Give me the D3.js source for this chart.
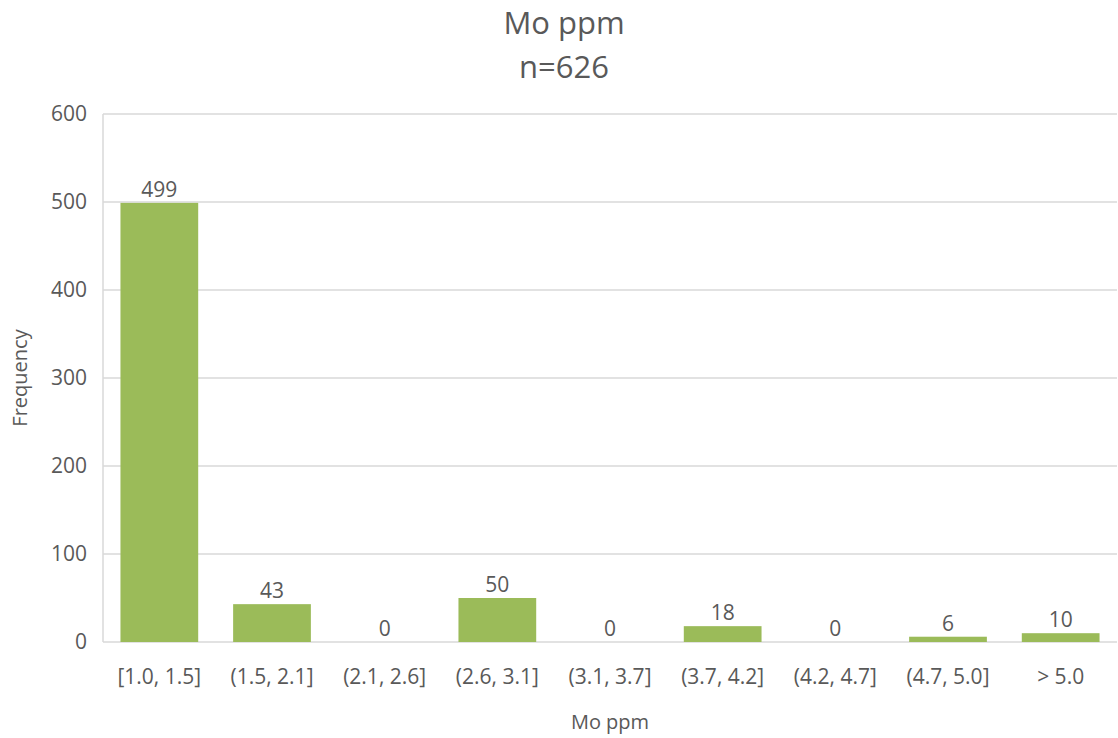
<!DOCTYPE html>
<meta charset="utf-8">
<style>
  body { margin: 0; background: #fff; }
  text { font-family: "Open Sans", sans-serif; fill: #595959; }
</style>
<body>
<script src="https://d3js.org/d3.v7.min.js"></script>
<script>
var categories = ["[1.0, 1.5]", "(1.5, 2.1]", "(2.1, 2.6]", "(2.6, 3.1]", "(3.1, 3.7]", "(3.7, 4.2]", "(4.2, 4.7]", "(4.7, 5.0]", "> 5.0"];
var counts = [499, 43, 0, 50, 0, 18, 0, 6, 10];
var yTicks = [0, 100, 200, 300, 400, 500, 600];

var width = 1118, height = 738;
var margin = {top: 114, right: 1, bottom: 96, left: 103};

var svg = d3.select("body").append("svg")
    .attr("width", width)
    .attr("height", height);

var x = d3.scaleBand()
    .domain(categories)
    .range([margin.left, width - margin.right])
    .paddingInner(0.31)
    .paddingOuter(0.155);

var y = d3.scaleLinear()
    .domain([0, 600])
    .range([height - margin.bottom, margin.top]);

// gridlines
svg.append("g")
  .selectAll("line")
  .data(yTicks)
  .enter().append("line")
    .attr("x1", margin.left)
    .attr("x2", width - margin.right)
    .attr("y1", d => y(d))
    .attr("y2", d => y(d))
    .attr("stroke", "#d9d9d9")
    .attr("stroke-width", 1.5);

// left axis line
svg.append("line")
    .attr("x1", margin.left).attr("x2", margin.left)
    .attr("y1", y(600)).attr("y2", y(0))
    .attr("stroke", "#d9d9d9")
    .attr("stroke-width", 1.5);

// y tick labels
svg.append("g")
  .selectAll("text")
  .data(yTicks)
  .enter().append("text")
    .attr("x", 87)
    .attr("y", d => y(d))
    .attr("dy", "0.35em")
    .attr("text-anchor", "end")
    .style("font-size", "21px")
    .text(d => d);

// bars
svg.append("g")
  .selectAll("rect")
  .data(counts)
  .enter().append("rect")
    .attr("x", (d, i) => x(categories[i]))
    .attr("width", x.bandwidth())
    .attr("y", d => y(d))
    .attr("height", d => y(0) - y(d))
    .attr("fill", "#9bbb59");

// data labels
svg.append("g")
  .selectAll("text")
  .data(counts)
  .enter().append("text")
    .attr("x", (d, i) => x(categories[i]) + x.bandwidth() / 2)
    .attr("y", d => y(d) - 6)
    .attr("text-anchor", "middle")
    .style("font-size", "21px")
    .text(d => d);

// x tick labels
svg.append("g")
  .selectAll("text")
  .data(categories)
  .enter().append("text")
    .attr("x", d => x(d) + x.bandwidth() / 2)
    .attr("y", 684)
    .attr("text-anchor", "middle")
    .style("font-size", "21px")
    .text(d => d);

// titles
svg.append("text")
    .attr("x", 564).attr("y", 34)
    .attr("text-anchor", "middle")
    .style("font-size", "31px")
    .text("Mo ppm");
svg.append("text")
    .attr("x", 564).attr("y", 78)
    .attr("text-anchor", "middle")
    .style("font-size", "31px")
    .text("n=626");

svg.append("text")
    .attr("x", (margin.left + width - margin.right) / 2)
    .attr("y", 729)
    .attr("text-anchor", "middle")
    .style("font-size", "20px")
    .text("Mo ppm");

svg.append("text")
    .attr("transform", "translate(27," + 378 + ") rotate(-90)")
    .attr("text-anchor", "middle")
    .style("font-size", "20px")
    .text("Frequency");
</script>
</body>
</html>
